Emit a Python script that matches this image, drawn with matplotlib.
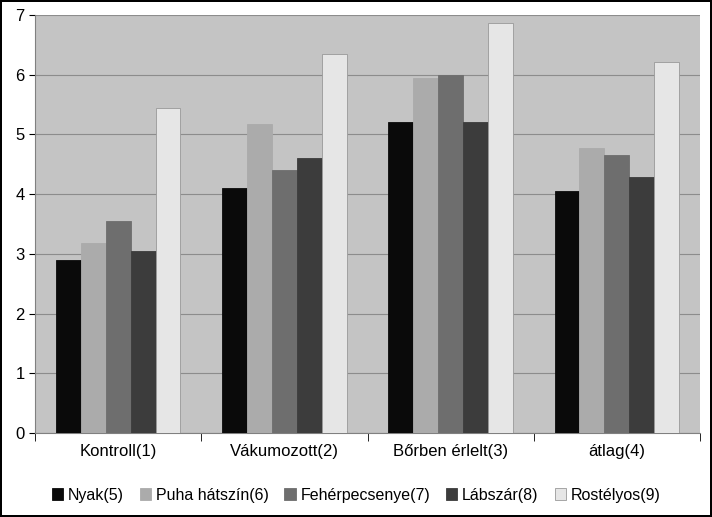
import matplotlib
matplotlib.use("Agg")
import matplotlib.pyplot as plt
import numpy as np

categories = ["Kontroll(1)", "Vákumozott(2)", "Bőrben érlelt(3)", "átlag(4)"]
series_names = ["Nyak(5)", "Puha hátszín(6)", "Fehérpecsenye(7)", "Lábszár(8)", "Rostélyos(9)"]
nyak = [2.9, 4.1, 5.2, 4.06]
puha = [3.18, 5.17, 5.95, 4.77]
feher = [3.55, 4.41, 6.0, 4.66]
labszar = [3.05, 4.6, 5.2, 4.28]
rostelyos = [5.44, 6.34, 6.87, 6.22]
values = [nyak, puha, feher, labszar, rostelyos]
colors = ["#0a0a0a", "#ababab", "#6e6e6e", "#3c3c3c", "#e6e6e6"]

plt.rcParams["font.family"] = "Liberation Sans"
fig = plt.figure(figsize=(7.12, 5.17), dpi=100)
fig.patch.set_edgecolor("black"); fig.patch.set_linewidth(1.5)
ax = fig.add_axes([35/712, 84/517, 665/712, 418/517])
ax.set_facecolor("#c4c4c4")
x = np.arange(len(categories))
w = 0.15
for i, (v, c) in enumerate(zip(values, colors)):
    ax.bar(x + (i - 2) * w, v, w, color=c, label=series_names[i],
           edgecolor="#999999" if i == 4 else c, linewidth=0.6, zorder=3)
ax.set_xlim(-0.5, 3.5)
ax.set_ylim(0, 7)
ax.set_yticks(range(8))
ax.yaxis.grid(True, color="#8c8c8c", linewidth=0.8, zorder=0)
ax.set_xticks(x)
ax.set_xticklabels(categories, fontsize=12)
ax.tick_params(axis="y", labelsize=12, length=4)
ax.tick_params(axis="x", length=0, pad=8)
ax.set_xticks([-0.5, 0.5, 1.5, 2.5, 3.5], minor=True)
ax.tick_params(axis="x", which="minor", length=6)
for s in ["top", "right"]:
    ax.spines[s].set_visible(False)
ax.spines["left"].set_color("#808080")
ax.spines["bottom"].set_color("#808080")
fig.legend(loc="lower center", bbox_to_anchor=(0.5, 0.0), ncol=5, frameon=False,
           fontsize=11.5, handlelength=0.7, handleheight=0.7, handletextpad=0.3, columnspacing=1.0)
fig.savefig("out.png", dpi=100)
